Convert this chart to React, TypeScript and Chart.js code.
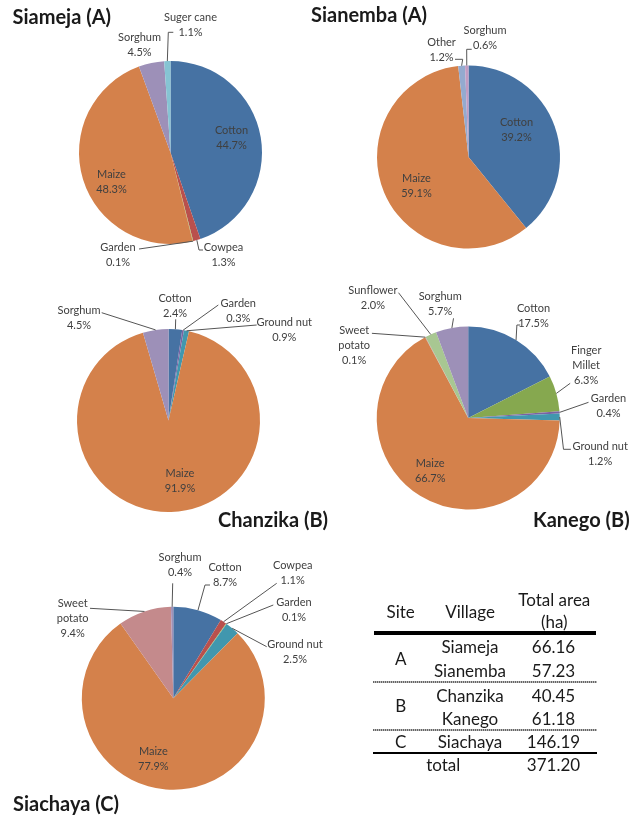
import React, { useEffect, useRef } from 'react';
import { Chart, registerables } from 'chart.js';
Chart.register(...registerables);

// ---------- data ----------
const siamejaCrops = ['Cotton', 'Cowpea', 'Garden', 'Maize', 'Sorghum', 'Suger cane'];
const siamejaShare = [44.7, 1.3, 0.1, 48.3, 4.5, 1.1];

const sianembaCrops = ['Cotton', 'Maize', 'Other', 'Sorghum'];
const sianembaShare = [39.2, 59.1, 1.2, 0.6];

const chanzikaCrops = ['Cotton', 'Garden', 'Ground nut', 'Maize', 'Sorghum'];
const chanzikaShare = [2.4, 0.3, 0.9, 91.9, 4.5];

const kanegoCrops = ['Cotton', 'Finger Millet', 'Garden', 'Ground nut', 'Maize', 'Sweet potato', 'Sunflower', 'Sorghum'];
const kanegoShare = [17.5, 6.3, 0.4, 1.2, 66.7, 0.1, 2.0, 5.7];

const siachayaCrops = ['Cotton', 'Cowpea', 'Garden', 'Ground nut', 'Maize', 'Sweet potato', 'Sorghum'];
const siachayaShare = [8.7, 1.1, 0.1, 2.5, 77.9, 9.4, 0.4];

const tableSites = ['A', 'B', 'C'];
const tableVillages = ['Siameja', 'Sianemba', 'Chanzika', 'Kanego', 'Siachaya'];
const tableAreas = ['66.16', '57.23', '40.45', '61.18', '146.19'];
const tableTotal = '371.20';

// ---------- styles ----------
const C = {
  cotton: '#4672A3',
  maize: '#D4814B',
  sorghum: '#9D90B8',
  sugar: '#86C4D3',
  cowpea: '#B9504D',
  gardenG: '#9BBB59',
  gardenP: '#7A62A3',
  groundnut: '#4197AE',
  millet: '#86A84F',
  sunflower: '#A8C792',
  sweetpotato: '#C48A8C',
  other: '#94AACF',
  sorghumPink: '#C29BC3',
};
const siamejaColors = [C.cotton, C.cowpea, C.gardenG, C.maize, C.sorghum, C.sugar];
const sianembaColors = [C.cotton, C.maize, C.other, C.sorghumPink];
const chanzikaColors = [C.cotton, C.gardenP, C.groundnut, C.maize, C.sorghum];
const kanegoColors = [C.cotton, C.millet, C.gardenP, C.groundnut, C.maize, C.sweetpotato, C.sunflower, C.sorghum];
const siachayaColors = [C.cotton, C.cowpea, C.gardenG, C.groundnut, C.maize, C.sweetpotato, C.sorghum];

const FONT = 'Lato, "Open Sans", sans-serif';
const TEXT = '#404040';
const W = 638;
const H = 816;
const R = 91.5;

type Lbl = { dx: number; dy: number; lead?: [number, number]; elbow?: [number, number]; wrap?: boolean };

const siamejaLayout: Lbl[] = [
  { dx: 61, dy: -15 },
  { dx: 53, dy: 102, lead: [32.5, 97.5], elbow: [28.5, 97.5] },
  { dx: -52.5, dy: 102, lead: [-31.5, 96.5] },
  { dx: -59, dy: 29 },
  { dx: -31, dy: -107.5 },
  { dx: 20, dy: -128, lead: [2.8, -120.2], elbow: [-2.2, -120.2] },
];
const sianembaLayout: Lbl[] = [
  { dx: 48, dy: -27 },
  { dx: -52, dy: 28.5 },
  { dx: -27, dy: -107, lead: [-13.5, -97.7], elbow: [-5.8, -97.7] },
  { dx: 16.5, dy: -119.5, lead: [3.2, -107.7], elbow: [-1.8, -107.7] },
];
const chanzikaLayout: Lbl[] = [
  { dx: 6.5, dy: -114.7, lead: [7.2, -101.2] },
  { dx: 69.8, dy: -109.3, lead: [49.8, -115.5] },
  { dx: 115.8, dy: -90.2, lead: [88.2, -95.5] },
  { dx: 11.5, dy: 60.3 },
  { dx: -89.5, dy: -102.7, lead: [-66.8, -107.8] },
];
const kanegoLayout: Lbl[] = [
  { dx: 65.3, dy: -101.8, lead: [52, -93], elbow: [48.7, -93] },
  { dx: 118, dy: -52.7, wrap: true, lead: [102, -34.7] },
  { dx: 140.3, dy: -11.7, lead: [120.3, -15.7] },
  { dx: 132, dy: 35.8, lead: [102.7, 31.3], elbow: [95.3, 31.3] },
  { dx: -38, dy: 53.3 },
  { dx: -114, dy: -72.7, wrap: true, lead: [-96.3, -84.7] },
  { dx: -95.3, dy: -120.5, lead: [-69.7, -125.3] },
  { dx: -28, dy: -113.8, lead: [-14.7, -99.7] },
];
const siachayaLayout: Lbl[] = [
  { dx: 51.7, dy: -123.1, lead: [36.7, -113.3], elbow: [31.7, -113.3] },
  { dx: 119.4, dy: -125.8, lead: [103.4, -115] },
  { dx: 120.7, dy: -88.3, lead: [100, -93.3] },
  { dx: 121.7, dy: -46.6, lead: [93.4, -51.6] },
  { dx: -20, dy: 60.9 },
  { dx: -100.6, dy: -79.5, wrap: true, lead: [-83.3, -90] },
  { dx: 6.7, dy: -133.6, lead: [-0.6, -115] },
];

const labelPlugin = {
  id: 'pieLabels',
  afterDatasetsDraw(chart: any, _args: any, opts: any) {
    const layout: Lbl[] = opts.layout || [];
    const meta = chart.getDatasetMeta(0);
    const ctx = chart.ctx as CanvasRenderingContext2D;
    const labels = chart.data.labels;
    const values = chart.data.datasets[0].data as number[];
    ctx.save();
    meta.data.forEach((arc: any, i: number) => {
      const L = layout[i];
      if (!L) return;
      const p = arc.getProps(['x', 'y', 'startAngle', 'endAngle', 'outerRadius'], true);
      const mid = (p.startAngle + p.endAngle) / 2;
      if (L.lead) {
        ctx.beginPath();
        ctx.moveTo(p.x + L.lead[0], p.y + L.lead[1]);
        if (L.elbow) ctx.lineTo(p.x + L.elbow[0], p.y + L.elbow[1]);
        ctx.lineTo(p.x + p.outerRadius * Math.cos(mid), p.y + p.outerRadius * Math.sin(mid));
        ctx.strokeStyle = '#555555';
        ctx.lineWidth = 1;
        ctx.stroke();
      }
      const name = String(labels[i]);
      const lines = L.wrap ? name.split(' ') : [name];
      lines.push(values[i].toFixed(1) + '%');
      ctx.font = `11px ${FONT}`;
      ctx.fillStyle = TEXT;
      ctx.textAlign = 'center';
      ctx.textBaseline = 'middle';
      const lh = 15;
      const top = p.y + L.dy - ((lines.length - 1) * lh) / 2;
      lines.forEach((t, k) => ctx.fillText(t, p.x + L.dx, top + k * lh));
    });
    ctx.restore();
  },
};

type PieProps = { labels: string[]; values: number[]; colors: string[]; cx: number; cy: number; layout: Lbl[] };

function Pie({ labels, values, colors, cx, cy, layout }: PieProps) {
  const ref = useRef<HTMLCanvasElement>(null);
  useEffect(() => {
    const chart = new Chart(ref.current!, {
      type: 'pie',
      data: { labels, datasets: [{ data: values, backgroundColor: colors, borderWidth: 0 }] },
      options: {
        responsive: false,
        animation: false,
        devicePixelRatio: 1,
        layout: { padding: { left: cx - R, top: cy - R, right: W - (cx + R), bottom: H - (cy + R) } },
        plugins: { legend: { display: false }, tooltip: { enabled: false }, pieLabels: { layout } } as any,
      },
      plugins: [labelPlugin as any],
    });
    return () => chart.destroy();
  }, []);
  return (
    <canvas
      ref={ref}
      width={W}
      height={H}
      style={{ position: 'absolute', left: 0, top: 0, width: W, height: H }}
    />
  );
}

function Title({ text, left, baseline }: { text: string; left: number; baseline: number }) {
  return (
    <div
      style={{
        position: 'absolute',
        left,
        top: baseline - 17.7,
        font: `bold 20px ${FONT}`,
        lineHeight: '20px',
        color: '#1a1a1a',
        whiteSpace: 'nowrap',
      }}
    >
      {text}
    </div>
  );
}

function Cell({ text, x, baseline }: { text: string; x: number; baseline: number }) {
  return (
    <div
      style={{
        position: 'absolute',
        left: x - 60,
        width: 120,
        textAlign: 'center',
        top: baseline - 15.1,
        font: `17px ${FONT}`,
        lineHeight: '17px',
        color: '#1a1a1a',
        whiteSpace: 'nowrap',
      }}
    >
      {text}
    </div>
  );
}

const dotted = 'repeating-linear-gradient(90deg, #666 0px, #666 1px, #bbb 1px, #bbb 2px)';

export default function App() {
  const colSite = 400.7;
  const colVil = 470;
  const colArea = 553.5;
  const vilBase = [652.7, 676.7, 701.7, 725, 748.3];
  const siteBase = [665, 711.7, 748.3];
  return (
    <div style={{ position: 'absolute', left: 0, top: 0, width: W, height: H, background: '#fff', overflow: 'hidden' }}>
      <Pie labels={siamejaCrops} values={siamejaShare} colors={siamejaColors} cx={170.5} cy={152.5} layout={siamejaLayout} />
      <Pie labels={sianembaCrops} values={sianembaShare} colors={sianembaColors} cx={468.5} cy={157} layout={sianembaLayout} />
      <Pie labels={chanzikaCrops} values={chanzikaShare} colors={chanzikaColors} cx={168.5} cy={420.5} layout={chanzikaLayout} />
      <Pie labels={kanegoCrops} values={kanegoShare} colors={kanegoColors} cx={468.2} cy={418} layout={kanegoLayout} />
      <Pie labels={siachayaCrops} values={siachayaShare} colors={siachayaColors} cx={173.3} cy={698.3} layout={siachayaLayout} />

      <Title text="Siameja (A)" left={12.5} baseline={24} />
      <Title text="Sianemba (A)" left={311} baseline={22} />
      <Title text="Chanzika (B)" left={218} baseline={526.7} />
      <Title text="Kanego (B)" left={533} baseline={526.7} />
      <Title text="Siachaya (C)" left={13} baseline={811} />

      <Cell text="Site" x={colSite} baseline={618.3} />
      <Cell text="Village" x={colVil} baseline={618.3} />
      <Cell text="Total area" x={554.3} baseline={605.7} />
      <Cell text="(ha)" x={554.3} baseline={628.3} />
      <div style={{ position: 'absolute', left: 374, top: 631, width: 222, height: 4, background: '#000' }} />
      {tableVillages.map((v, i) => (
        <React.Fragment key={v}>
          <Cell text={v} x={colVil} baseline={vilBase[i]} />
          <Cell text={tableAreas[i]} x={colArea} baseline={vilBase[i]} />
        </React.Fragment>
      ))}
      {tableSites.map((s, i) => (
        <Cell key={s} text={s} x={colSite} baseline={siteBase[i]} />
      ))}
      <div style={{ position: 'absolute', left: 373, top: 681, width: 224, height: 2, background: dotted }} />
      <div style={{ position: 'absolute', left: 373, top: 728.5, width: 224, height: 2, background: dotted }} />
      <div style={{ position: 'absolute', left: 373, top: 752, width: 224, height: 2, background: '#000' }} />
      <Cell text="total" x={443.3} baseline={771} />
      <Cell text={tableTotal} x={colArea} baseline={771.5} />
    </div>
  );
}
